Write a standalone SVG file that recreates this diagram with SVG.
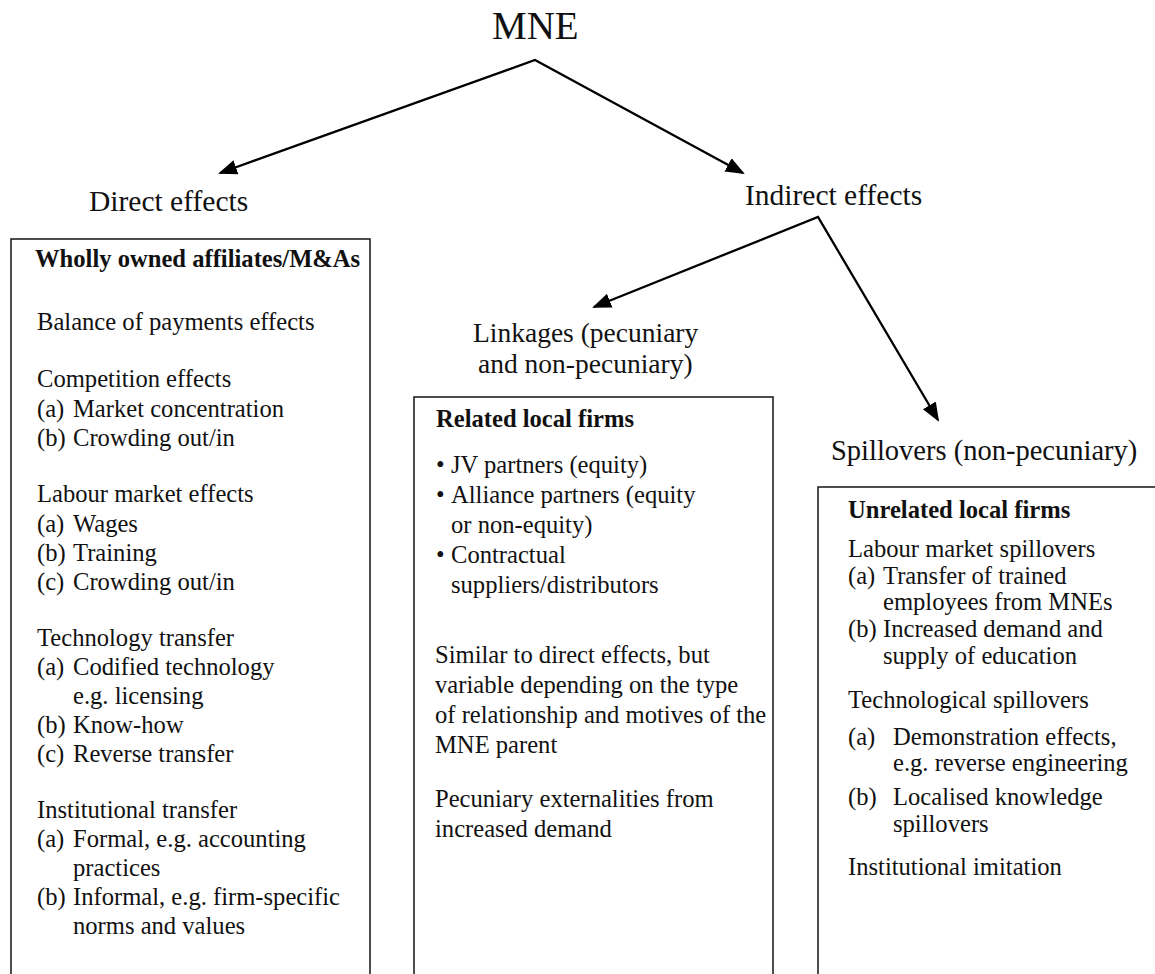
<svg xmlns="http://www.w3.org/2000/svg" width="1155" height="974" viewBox="0 0 1155 974">
<style>
.t{font-family:"Liberation Serif","Times New Roman",serif;fill:#111;}
.box{font-size:24.6px;}
.b{font-weight:bold;}
.frame{fill:#fff;stroke:#222;stroke-width:1.6;}
.conn{fill:none;stroke:#000;stroke-width:2.3;stroke-linejoin:miter;}
</style>
<defs>
<marker id="ah" markerUnits="userSpaceOnUse" markerWidth="20" markerHeight="16" refX="17" refY="7.5" orient="auto-start-reverse" viewBox="0 0 20 15">
<path d="M0,0 L19,7.5 L0,15 z" fill="#000"/>
</marker>
</defs>
<rect width="1155" height="974" fill="#fff"/>

<g id="connectors">
<path class="conn" d="M220,173 L535,60 L743,173" marker-start="url(#ah)" marker-end="url(#ah)"/>
<path class="conn" d="M594,307 L818,217 L938,420" marker-start="url(#ah)" marker-end="url(#ah)"/>
</g>

<g id="mne">
<text class="t" x="492" y="39" font-size="39">MNE</text>
</g>

<g id="direct-effects">
<text class="t" x="89" y="211" font-size="29.5">Direct effects</text>
</g>

<g id="indirect-effects">
<text class="t" x="745" y="205" font-size="29.5">Indirect effects</text>
</g>

<g id="linkages">
<text class="t" x="473" y="342" font-size="27.5">Linkages (pecuniary</text>
<text class="t" x="478" y="373" font-size="27.5">and non-pecuniary)</text>
</g>

<g id="spillovers">
<text class="t" x="831" y="460" font-size="28.5">Spillovers (non-pecuniary)</text>
</g>

<g id="box-wholly-owned">
<rect class="frame" x="11" y="239" width="359" height="760"/>
<text class="t box b" x="35" y="267">Wholly owned affiliates/M&amp;As</text>
<text class="t box" x="37" y="330">Balance of payments effects</text>
<text class="t box" x="37" y="387">Competition effects</text>
<text class="t box" y="417"><tspan x="37">(a)</tspan><tspan x="73">Market concentration</tspan></text>
<text class="t box" y="446"><tspan x="37">(b)</tspan><tspan x="73">Crowding out/in</tspan></text>
<text class="t box" x="37" y="502">Labour market effects</text>
<text class="t box" y="532"><tspan x="37">(a)</tspan><tspan x="73">Wages</tspan></text>
<text class="t box" y="561"><tspan x="37">(b)</tspan><tspan x="73">Training</tspan></text>
<text class="t box" y="590"><tspan x="37">(c)</tspan><tspan x="73">Crowding out/in</tspan></text>
<text class="t box" x="37" y="646">Technology transfer</text>
<text class="t box" y="675"><tspan x="37">(a)</tspan><tspan x="73">Codified technology</tspan></text>
<text class="t box" x="73" y="704">e.g. licensing</text>
<text class="t box" y="733"><tspan x="37">(b)</tspan><tspan x="73">Know-how</tspan></text>
<text class="t box" y="762"><tspan x="37">(c)</tspan><tspan x="73">Reverse transfer</tspan></text>
<text class="t box" x="37" y="818">Institutional transfer</text>
<text class="t box" y="847"><tspan x="37">(a)</tspan><tspan x="73">Formal, e.g. accounting</tspan></text>
<text class="t box" x="73" y="876">practices</text>
<text class="t box" y="905"><tspan x="37">(b)</tspan><tspan x="73">Informal, e.g. firm-specific</tspan></text>
<text class="t box" x="73" y="934">norms and values</text>
</g>

<g id="box-related">
<rect class="frame" x="414" y="397" width="359" height="600"/>
<text class="t box b" x="436" y="427">Related local firms</text>
<text class="t box" y="473"><tspan x="436">•</tspan><tspan x="451">JV partners (equity)</tspan></text>
<text class="t box" y="503"><tspan x="436">•</tspan><tspan x="451">Alliance partners (equity</tspan></text>
<text class="t box" x="451" y="533">or non-equity)</text>
<text class="t box" y="563"><tspan x="436">•</tspan><tspan x="451">Contractual</tspan></text>
<text class="t box" x="451" y="593">suppliers/distributors</text>
<text class="t box" x="435" y="663">Similar to direct effects, but</text>
<text class="t box" x="435" y="693">variable depending on the type</text>
<text class="t box" x="435" y="723">of relationship and motives of the</text>
<text class="t box" x="435" y="753">MNE parent</text>
<text class="t box" x="435" y="807">Pecuniary externalities from</text>
<text class="t box" x="435" y="837">increased demand</text>
</g>

<g id="box-unrelated">
<rect class="frame" x="818" y="487" width="360" height="510"/>
<text class="t box b" x="848" y="518">Unrelated local firms</text>
<text class="t box" x="848" y="557">Labour market spillovers</text>
<text class="t box" y="584"><tspan x="848">(a)</tspan><tspan x="883">Transfer of trained</tspan></text>
<text class="t box" x="883" y="610">employees from MNEs</text>
<text class="t box" y="637"><tspan x="848">(b)</tspan><tspan x="883">Increased demand and</tspan></text>
<text class="t box" x="883" y="664">supply of education</text>
<text class="t box" x="848" y="708">Technological spillovers</text>
<text class="t box" y="745"><tspan x="848">(a)</tspan><tspan x="893">Demonstration effects,</tspan></text>
<text class="t box" x="893" y="771">e.g. reverse engineering</text>
<text class="t box" y="805"><tspan x="848">(b)</tspan><tspan x="893">Localised knowledge</tspan></text>
<text class="t box" x="893" y="832">spillovers</text>
<text class="t box" x="848" y="875">Institutional imitation</text>
</g>
</svg>
